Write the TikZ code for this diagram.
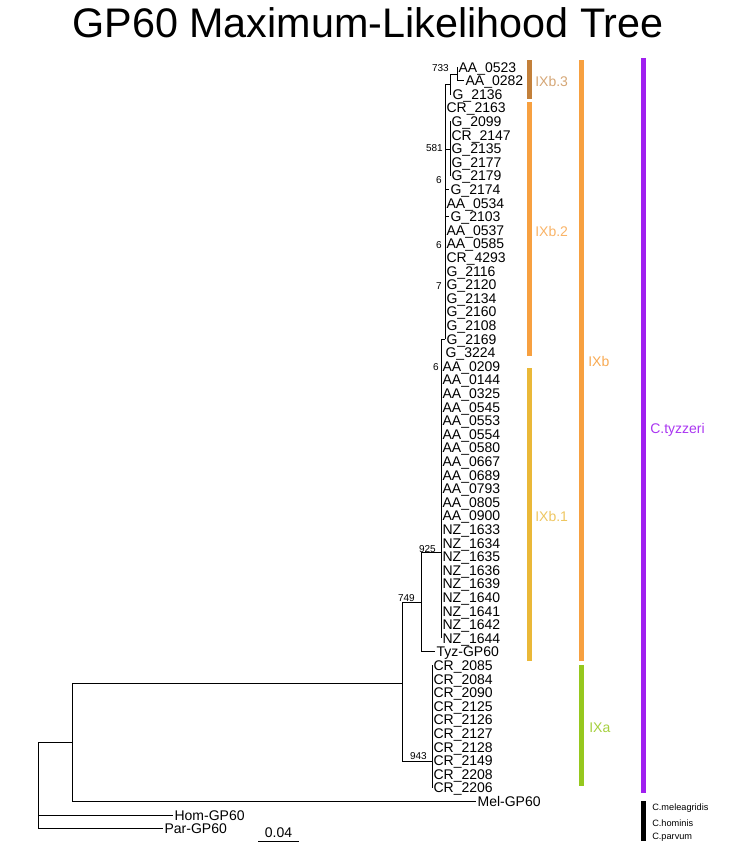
\documentclass[tikz,border=0pt]{standalone}
\usepackage{fontspec}
\setmainfont{Liberation Sans}
\usetikzlibrary{positioning}
\definecolor{ixbthree}{RGB}{195,128,58}
\definecolor{ixbtwo}{RGB}{247,160,64}
\definecolor{ixbone}{RGB}{234,184,56}
\definecolor{ixaclade}{RGB}{150,200,30}
\definecolor{tyzpurple}{RGB}{160,32,240}

\begin{document}
\begin{tikzpicture}[x=0.75pt, y=-0.75pt,
    tip/.style={anchor=west, inner sep=1pt, text height=7.5pt, text depth=0pt, font=\fontsize{10.5}{12}\selectfont},
    boot/.style={anchor=east, inner sep=0pt, font=\fontsize{7.5}{9}\selectfont},
    branch/.style={line width=0.75pt},
    cladebar/.style={line width=3.75pt},
    cladelab/.style={anchor=west, inner sep=0pt, font=\fontsize{10.5}{12}\selectfont}]
    \useasboundingbox (0,0) rectangle (736,853);

    \node[font=\fontsize{31}{36}\selectfont] (title) at (368,23) {GP60 Maximum-Likelihood Tree};

    % tips
    \foreach \lab/\tx [count=\i] in {AA\_0523/457, AA\_0282/464, G\_2136/451, CR\_2163/445, G\_2099/450,
        CR\_2147/450, G\_2135/450, G\_2177/450, G\_2179/450, G\_2174/449, AA\_0534/445, G\_2103/449,
        AA\_0537/445, AA\_0585/445, CR\_4293/445, G\_2116/445, G\_2120/445, G\_2134/445, G\_2160/445,
        G\_2108/445, G\_2169/445, G\_3224/444, AA\_0209/441, AA\_0144/441, AA\_0325/441, AA\_0545/441,
        AA\_0553/441, AA\_0554/441, AA\_0580/441, AA\_0667/441, AA\_0689/441, AA\_0793/441, AA\_0805/441,
        AA\_0900/441, NZ\_1633/441, NZ\_1634/441, NZ\_1635/441, NZ\_1636/441, NZ\_1639/441, NZ\_1640/441,
        NZ\_1641/441, NZ\_1642/441, NZ\_1644/441, Tyz-GP60/435, CR\_2085/432, CR\_2084/432, CR\_2090/432,
        CR\_2125/432, CR\_2126/432, CR\_2127/432, CR\_2128/432, CR\_2149/432, CR\_2208/432, CR\_2206/432,
        Mel-GP60/476, Hom-GP60/173, Par-GP60/163} {
        \coordinate (c\i) at (\tx, 53.4+13.6*\i);
        \node[tip] (t\i) at (c\i) {\lab};
    }

    % internal nodes
    \coordinate (naa) at (457,74);
    \coordinate (n733) at (450,84);
    \coordinate (n581) at (450,149);
    \coordinate (nB) at (445,339);
    \coordinate (nA) at (441,552);
    \coordinate (n925) at (421,602);
    \coordinate (n943) at (432,761);
    \coordinate (n749) at (402,683);
    \coordinate (nin) at (72,742);
    \coordinate (nroot) at (38,815);

    \draw[branch] (naa) |- (c1);
    \draw[branch] (naa) |- (c2);
    \draw[branch] (n733) |- (naa);
    \draw[branch] (n733) |- (c3);
    \draw[branch] (nB) |- (n733);
    \draw[branch] (nB) |- (n581);
    \draw[branch] (n581) |- (c5);
    \draw[branch] (n581) |- (c9);
    \draw[branch] (nB) |- (c10);
    \draw[branch] (nB) |- (c12);
    \draw[branch] (nA) |- (nB);
    \draw[branch] (nA) |- (c43);
    \draw[branch] (n925) |- (nA);
    \draw[branch] (n925) |- (c44);
    \draw[branch] (n943) |- (c45);
    \draw[branch] (n943) |- (c54);
    \draw[branch] (n749) |- (n925);
    \draw[branch] (n749) |- (n943);
    \draw[branch] (nin) |- (n749);
    \draw[branch] (nin) |- (c55);
    \draw[branch] (nroot) |- (nin);
    \draw[branch] (nroot) |- (c56);
    \draw[branch] (nroot) |- (c57);

    % support values
    \node[boot] (b733) at (449,68) {733};
    \node[boot] (b581) at (443,148) {581};
    \node[boot] (b6a) at (442,180) {6};
    \node[boot] (b6b) at (442,245) {6};
    \node[boot] (b7) at (442,286) {7};
    \node[boot] (b6c) at (439,367) {6};
    \node[boot] (b925) at (436,549) {925};
    \node[boot] (b749) at (415,598) {749};
    \node[boot] (b943) at (427,756) {943};

    % scale bar
    \coordinate (sbl) at (258,841);
    \coordinate (sbr) at (299,841);
    \draw[branch] (sbl) -- (sbr) node[midway, above, inner sep=2pt, font=\fontsize{10.5}{12}\selectfont] (sblab) {0.04};

    % clade bars
    \draw[cladebar, ixbthree] (529,60) -- (529,99);
    \draw[cladebar, ixbtwo] (529,102) -- (529,356);
    \draw[cladebar, ixbone] (529,368) -- (529,661);
    \draw[cladebar, ixbtwo] (581,60) -- (581,661);
    \draw[cladebar, ixaclade] (581,665) -- (581,786);
    \draw[cladebar, tyzpurple] (643,58) -- (643,793);
    \draw[cladebar, black] (643,801) -- (643,841);

    \node[cladelab, text=ixbthree!70] (l3) at (535,81) {IXb.3};
    \node[cladelab, text=ixbtwo!80] (l2) at (535,231) {IXb.2};
    \node[cladelab, text=ixbone!80] (l1) at (535,516) {IXb.1};
    \node[cladelab, text=ixbtwo!90] (lb) at (588,361) {IXb};
    \node[cladelab, text=ixaclade!85] (la) at (589,728) {IXa};
    \node[cladelab, text=tyzpurple!90] (lt) at (650,430) {C.tyzzeri};
    \node[cladelab, font=\fontsize{6.9}{8}\selectfont] (lm) at (652,808) {C.meleagridis};
    \node[cladelab, font=\fontsize{6.9}{8}\selectfont] (lh) at (652,823) {C.hominis};
    \node[cladelab, font=\fontsize{6.9}{8}\selectfont] (lp) at (652,837) {C.parvum};
\end{tikzpicture}
\end{document}
